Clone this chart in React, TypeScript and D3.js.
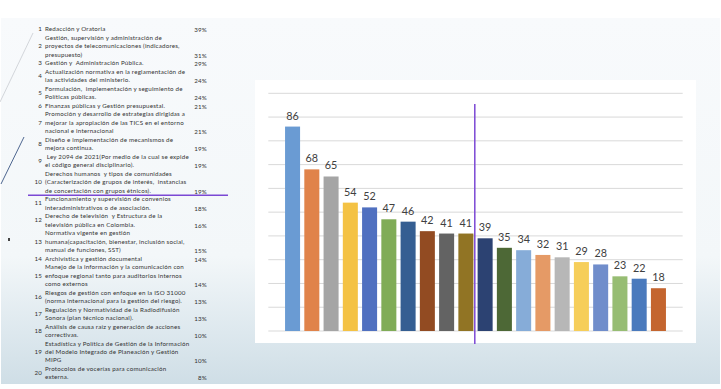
import React from 'react';
import * as d3 from 'd3';

// left table: topics (one entry per line) and their share
const topics: string[][] = [
  ['Redacción y Oratoria'],
  ['Gestión, supervisión y administración de', 'proyectos de telecomunicaciones (indicadores,', 'presupuesto)'],
  ['Gestión y  Administración Pública.'],
  ['Actualización normativa en la reglamentación de', 'las actividades del ministerio.'],
  ['Formulación,  implementación y seguimiento de', 'Políticas públicas.'],
  ['Finanzas públicas y Gestión presupuestal.'],
  ['Promoción y desarrollo de estrategias dirigidas a', 'mejorar la apropiación de las TICS en el entorno', 'nacional e internacional'],
  ['Diseño e implementación de mecanismos de', 'mejora continua.'],
  [' Ley 2094 de 2021(Por medio de la cual se expide', 'el código general disciplinario).'],
  ['Derechos humanos  y tipos de comunidades', '(Caracterización de grupos de interés,  instancias', 'de concertación con grupos étnicos).'],
  ['Funcionamiento y supervisión de convenios', 'interadministrativos o de asociación.'],
  ['Derecho de televisión  y Estructura de la', 'televisión pública en Colombia.'],
  ['Normativa vigente en gestión', 'humana(capacitación, bienestar, inclusión social,', 'manual de funciones, SST)'],
  ['Archivística y gestión documental'],
  ['Manejo de la información y la comunicación con', 'enfoque regional tanto para auditorios internos', 'como externos'],
  ['Riesgos de gestión con enfoque en la ISO 31000', '(norma internacional para la gestión del riesgo).'],
  ['Regulación y Normatividad de la Radiodifusión', 'Sonora (plan técnico nacional).'],
  ['Análisis de causa raíz y generación de acciones', 'correctivas.'],
  ['Estadística y Política de Gestión de la Información', 'del Modelo Integrado de Planeación y Gestión', 'MIPG'],
  ['Protocolos de vocerías para comunicación', 'externa.'],
];
const shares = [39, 31, 29, 24, 24, 21, 21, 19, 19, 19, 18, 16, 15, 14, 14, 13, 13, 10, 10, 8];

// bar chart
const barValues = [86, 68, 65, 54, 52, 47, 46, 42, 41, 41, 39, 35, 34, 32, 31, 29, 28, 23, 22, 18];
const barColors = [
  '#6a9bd3', '#e0834a', '#a5a5a5', '#f4c244', '#5070c0', '#80ac57', '#355e92', '#924b22', '#636363', '#917424',
  '#2c4272', '#4d6836', '#86acd8', '#e59a66', '#b7b7b7', '#f6ce5a', '#708dcb', '#97bd73', '#4a7abd', '#c4652f',
];
const gridTicks = [0, 10, 20, 30, 40, 50, 60, 70, 80, 90, 100];

const W = 721;
const H = 389;
const font = 'Lato, "Noto Sans", sans-serif';

export default function App() {
  const x = d3.scaleBand<number>()
    .domain(d3.range(barValues.length))
    .range([268.3, 682.7])
    .paddingInner(0.22)
    .paddingOuter(0.87);
  const y = d3.scaleLinear().domain([0, 100]).range([331, 93.3]);

  // table lines
  const totalLines = d3.sum(topics, t => t.length);
  const lineY = d3.scaleLinear().domain([0, totalLines - 1]).range([29.3, 377.3]);
  let idx = 0;
  const rows = topics.map((lines, i) => {
    const start = idx;
    idx += lines.length;
    const numPos = lines.length === 2 ? start + 0.5 : lines.length === 3 ? start + 1 : start;
    return { i, lines, start, numPos, last: start + lines.length - 1 };
  });
  const sepY = (lineY(rows[9].last) + lineY(rows[10].start)) / 2 + 0.5;

  return (
    <svg width={W} height={H} style={{ position: 'absolute', left: 0, top: 0 }} fontFamily={font}>
      <defs>
        <linearGradient id="bg" x1="0" y1="0" x2="0" y2="1">
          <stop offset="0" stopColor="#f8fafc" />
          <stop offset="0.65" stopColor="#f3f7f9" />
          <stop offset="0.86" stopColor="#dde8ee" />
          <stop offset="1" stopColor="#cfdee6" />
        </linearGradient>
      </defs>
      <rect width={W} height={H} fill="#ffffff" />
      <rect x={1} y={18} width={W - 2} height={366} fill="url(#bg)" />

      {/* decorative strokes on the left edge */}
      <line x1={0} y1={102} x2={33} y2={33} stroke="#c9cdd2" strokeWidth={0.8} />
      <line x1={1} y1={184} x2={24} y2={137} stroke="#3b5683" strokeWidth={0.9} />
      <rect x={8} y={238} width={2} height={3} fill="#444" />

      {/* table */}
      <g fontSize={6.2} fill="#333" letterSpacing={0.2}>
        {rows.map(r => (
          <g key={r.i}>
            <text x={42} y={lineY(r.numPos)} dy="0.35em" textAnchor="end">{r.i + 1}</text>
            {r.lines.map((l, j) => (
              <text key={j} x={45} y={lineY(r.start + j)} dy="0.35em" style={{ whiteSpace: 'pre' }}>{l}</text>
            ))}
            <text x={207} y={lineY(r.last) + 1} dy="0.35em" textAnchor="end">{shares[r.i]}%</text>
          </g>
        ))}
      </g>
      <line x1={28} x2={228} y1={sepY} y2={sepY} stroke="#7b48d4" strokeWidth={1.5} />

      {/* chart panel */}
      <rect x={255} y={80} width={441} height={263} fill="#ffffff" />
      {gridTicks.map(t => (
        <line key={t} x1={268.3} x2={682.7} y1={y(t)} y2={y(t)} stroke="#d9d9d9" strokeWidth={1} />
      ))}
      {barValues.map((v, i) => (
        <g key={i}>
          <rect x={x(i)} y={y(v)} width={x.bandwidth()} height={y(0) - y(v)} fill={barColors[i]} />
          <text x={(x(i) ?? 0) + x.bandwidth() / 2} y={y(v) - 7} textAnchor="middle" fontSize={10.8} fill="#404040">{v}</text>
        </g>
      ))}
      <line x1={474.8} x2={474.8} y1={104} y2={344} stroke="#7b48d4" strokeWidth={1.5} />
    </svg>
  );
}
